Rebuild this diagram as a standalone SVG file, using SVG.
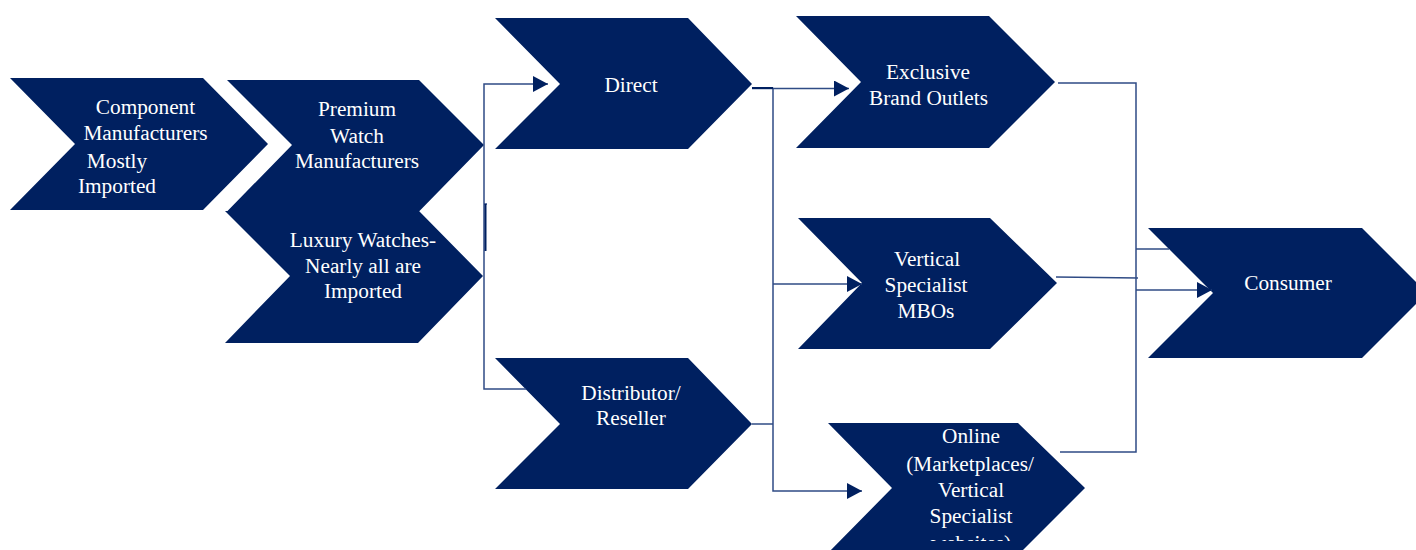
<svg xmlns="http://www.w3.org/2000/svg" width="1416" height="550" viewBox="0 0 1416 550">
<style>
.node{fill:#002060;stroke:none}
.lbl{font-family:"Liberation Serif","Times New Roman",serif;font-size:21.3px;fill:#FFFFFF;text-anchor:middle}
.con{fill:none;stroke:#2F4B85;stroke-width:1.5}
</style>
<defs>
<marker id="arr" viewBox="0 0 15 16" refX="15" refY="8" markerWidth="15" markerHeight="16" markerUnits="userSpaceOnUse" orient="auto">
<path d="M0,0 L15,8 L0,16 Z" fill="#002060"/>
</marker>
<clipPath id="cutOnline"><rect x="820" y="420" width="280" height="121"/></clipPath>
</defs>
<rect width="1416" height="550" fill="#FFFFFF"/>
<g id="nodes">
<g id="component">
<polygon class="node" points="10,78 203,78 268,144 203,210 10,210 75,144"/>
<text class="lbl" x="145.5" y="114">Component</text>
<text class="lbl" x="145.5" y="140">Manufacturers</text>
<text class="lbl" x="117" y="168">Mostly</text>
<text class="lbl" x="117" y="193">Imported</text>
</g>
<g id="premium">
<polygon class="node" points="227,80 419,80 484,145 419,211.5 227,211.5 292,145"/>
<text class="lbl" x="357" y="116">Premium</text>
<text class="lbl" x="357" y="143">Watch</text>
<text class="lbl" x="357" y="168">Manufacturers</text>
</g>
<g id="luxury">
<polygon class="node" points="225,211 419,211 483,276 418,343 225,343 290,276"/>
<text class="lbl" x="363" y="247">Luxury Watches-</text>
<text class="lbl" x="363" y="273">Nearly all are</text>
<text class="lbl" x="363" y="298">Imported</text>
</g>
<g id="direct">
<polygon class="node" points="495,18 688,18 752,84 688,149 495,149 560,84"/>
<text class="lbl" x="631" y="92">Direct</text>
</g>
<g id="distributor">
<polygon class="node" points="495,358 688,358 752,424 688,489 495,489 560,424"/>
<text class="lbl" x="631" y="400">Distributor/</text>
<text class="lbl" x="631" y="425">Reseller</text>
</g>
<g id="exclusive">
<polygon class="node" points="796,16 989,16 1055,82 989,148 796,148 861,82"/>
<text class="lbl" x="928" y="79">Exclusive</text>
<text class="lbl" x="928.5" y="105">Brand Outlets</text>
</g>
<g id="vertical">
<polygon class="node" points="798,218 990,218 1057,283 990,349 798,349 862,283"/>
<text class="lbl" x="927" y="266">Vertical</text>
<text class="lbl" x="926" y="292">Specialist</text>
<text class="lbl" x="926" y="318">MBOs</text>
</g>
<g id="online">
<polygon class="node" points="828,423 1018,423 1085,488 1020,553 828,553 892,488"/>
<text class="lbl" x="971" y="443">Online</text>
<text class="lbl" x="970" y="471">(Marketplaces/</text>
<text class="lbl" x="971" y="497">Vertical</text>
<text class="lbl" x="971" y="523">Specialist</text>
<text class="lbl" x="971" y="550" clip-path="url(#cutOnline)">websites)</text>
</g>
<g id="consumer">
<polygon class="node" points="1148,228 1362,228 1427,293 1362,358 1148,358 1213,293"/>
<text class="lbl" x="1288" y="290">Consumer</text>
</g>
</g>
<g id="connectors">
<path class="con" d="M526,389 H484 V84 H548" marker-end="url(#arr)"/>
<path class="con" d="M484,204 H487" stroke="#002060"/>
<path d="M485.5,204 V251" fill="none" stroke="#002060" stroke-width="2"/>
<path class="con" d="M752,88.5 H773 V491 H862" marker-end="url(#arr)"/>
<path d="M752,88 H773" fill="none" stroke="#002060" stroke-width="2"/>
<path class="con" d="M773,88.5 H849" marker-end="url(#arr)"/>
<path class="con" d="M773,284 H862" marker-end="url(#arr)"/>
<path class="con" d="M752,424 H773"/>
<path class="con" d="M1058,83 H1136 V452 H1060"/>
<path class="con" d="M1056,277 L1138,278"/>
<path class="con" d="M1136,249 H1169"/>
<path class="con" d="M1136,290 H1212" marker-end="url(#arr)"/>
</g>
</svg>
